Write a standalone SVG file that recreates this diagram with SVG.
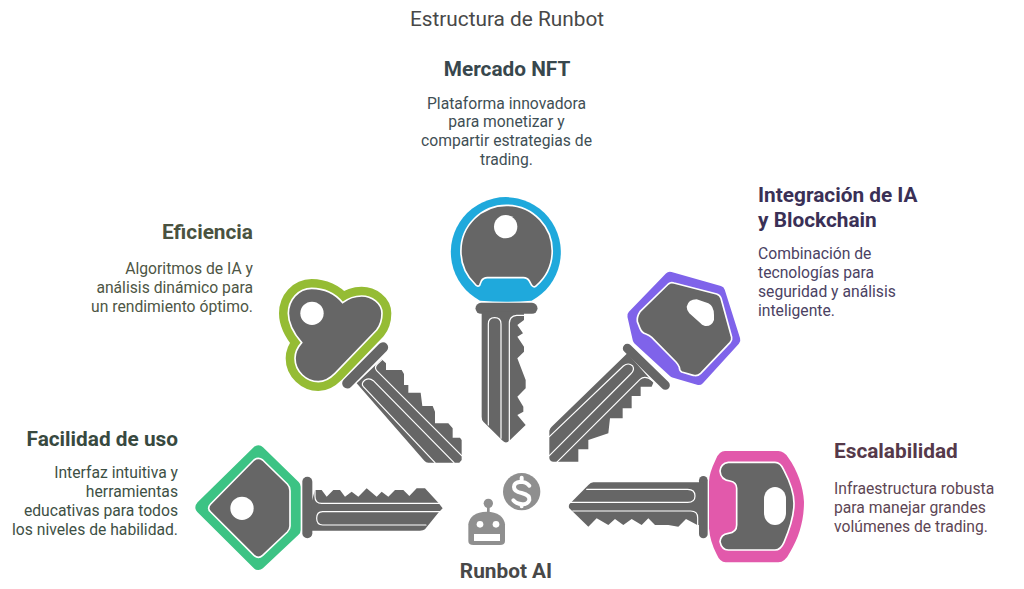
<svg xmlns="http://www.w3.org/2000/svg" width="1024" height="589" viewBox="0 0 1024 589">
<style>
text{font-family:Roboto,"Liberation Sans",sans-serif}
.cap{font-size:20.8px;fill:#484848}
.t{font-size:20.8px;font-weight:700}
.d{font-size:15.7px}
.g{fill:#666}
.gl{fill:none;stroke:#fff;stroke-width:3.6;stroke-linecap:round;stroke-linejoin:round}
.bow{stroke:#666;stroke-linecap:round;fill:none}
.hole{fill:#fff}
.ic{fill:#8f8f8f}
</style>
<rect width="1024" height="589" fill="#fff"/>
<text class="cap" x="507" y="26" text-anchor="middle">Estructura de Runbot</text>

<g id="node-mercado">
<g transform="translate(430 180) scale(.33333)">
<path fill="#1fa9dc" d="M150,362 A165,165 0 1 1 305,362 Q228,368 150,362Z"/>
<path class="g" stroke="#fff" stroke-width="5" d="M135,312 A137,137 0 1 1 320,316 Q312,325 305,316 L298,303 Q292,293 280,293 L172,293 Q160,293 154,303 L149,316 Q142,322 135,312Z"/>
<circle class="hole" cx="227" cy="140" r="35"/>
<path class="bow" stroke-width="33" d="M153,385H306"/>
<path class="g" d="M155,395H282V420L262,435L279,460L262,470L282,500V515L262,535L287,600V625L262,650L280,680V695L262,705L287,735L238,782Q228,793 218,782L160,725Q155,720 155,710Z"/>
<path class="gl" d="M238,785V430Q238,408 260,406H284M175,735V432Q175,413 194,413Q213,413 213,432V775"/>
</g>
<text class="t" x="507" y="76" text-anchor="middle" fill="#38474d">Mercado NFT</text>
<g class="d" text-anchor="middle" fill="#3f4f55">
<text x="506.500" y="109">Plataforma innovadora</text>
<text x="506.500" y="127">para monetizar y</text>
<text x="506.500" y="146">compartir estrategias de</text>
<text x="506.500" y="165">trading.</text>
</g>
</g>

<g id="node-eficiencia">
<g transform="translate(260 270) scale(.33333)">
<path fill="#95bc34" stroke="#95bc34" stroke-width="56" stroke-linejoin="round" d="M248,98C225,70 190,55 155,55C115,55 85,90 85,130C85,165 105,195 125,218C110,235 105,250 105,265C105,305 140,335 175,335C195,335 210,325 225,310L350,180C362,165 366,150 366,130C366,100 335,78 305,78C285,78 265,85 248,98Z"/>
<path class="g" stroke="#fff" stroke-width="5" d="M248,98C225,70 190,55 155,55C115,55 85,90 85,130C85,165 105,195 125,218C110,235 105,250 105,265C105,305 140,335 175,335C195,335 210,325 225,310L350,180C362,165 366,150 366,130C366,100 335,78 305,78C285,78 265,85 248,98Z"/>
<circle class="hole" cx="156" cy="130" r="35"/>
<path d="M238,345L385,205L398,240L262,370Z" fill="#fff"/>
<path class="bow" stroke-width="31" d="M369,232L262,340"/>
<path class="g" d="M290,340L365,268L378,280V300H425L432,312V345H445V368H482L487,408H518L525,425V460H565L578,475V503H600L605,510V570L598,578H505Q498,578 493,572Z"/>
<path class="gl" d="M605,557L350,302Q342,292 352,282L367,268M525,578L310,350Q302,340 315,330Q328,322 340,332L582,578"/>
</g>
<text class="t" x="253" y="239" text-anchor="end" fill="#4a5240">Eficiencia</text>
<g class="d" text-anchor="end" fill="#4e5645">
<text x="253" y="274">Algoritmos de IA y</text>
<text x="253" y="293">análisis dinámico para</text>
<text x="253" y="312">un rendimiento óptimo.</text>
</g>
</g>

<g id="node-integracion">
<g transform="translate(540 260) scale(.33333)">
<path fill="#7f63ea" stroke="#7f63ea" stroke-width="34" stroke-linejoin="round" d="M390,52L538,94L584,240L476,358L402,336L295,238L279,167Z"/>
<path class="g" stroke="#fff" stroke-width="5" stroke-linejoin="round" d="M385,72Q392,66 402,69L530,102Q540,105 543,115L575,232Q577,240 570,248L482,340Q472,350 460,346L425,336Q418,332 418,322Q415,314 408,306L335,232Q328,226 318,222Q305,218 300,205L292,185Q290,170 300,155Z"/>
<path class="hole" d="M440,140Q445,118 470,118L505,130Q522,138 522,165V180Q515,200 495,198Q485,195 480,188L448,160Q440,150 440,140Z"/>
<path class="bow" stroke-width="27" d="M262,265L376,376"/>
<path class="g" d="M262,280L340,368L335,380H302V408H275V445H248V475H210L205,520L145,540V568H115V605H40Q30,605 28,595V512Q30,505 35,500Z"/>
<path class="gl" d="M28,530L250,318Q265,306 278,318Q285,330 272,342L28,587M50,607L300,358Q315,345 338,362"/>
</g>
<g class="t" fill="#3a3056">
<text x="758" y="202">Integración de IA</text>
<text x="758" y="227">y Blockchain</text>
</g>
<g class="d" fill="#4b4263">
<text x="758" y="259">Combinación de</text>
<text x="758" y="278">tecnologías para</text>
<text x="758" y="297">seguridad y análisis</text>
<text x="758" y="316">inteligente.</text>
</g>
</g>

<g id="node-facilidad">
<g transform="translate(190 440) scale(.33333)">
<path fill="#3cc384" stroke="#3cc384" stroke-width="40" stroke-linejoin="round" d="M205,36L312,140V270L205,370L36,202Z"/>
<path class="g" stroke="#fff" stroke-width="5" stroke-linejoin="round" d="M192,60Q205,50 218,60L292,132Q300,140 300,152V258Q300,268 292,276L218,346Q205,358 192,346L62,216Q50,205 62,192Z"/>
<circle class="hole" cx="156" cy="205" r="35"/>
<path class="bow" stroke-width="30" d="M352,125V280"/>
<path class="g" d="M365,185L375,150H395L410,170L430,150H450L465,170L485,155L505,170L530,145L560,170L575,155L595,170L615,150H640L658,168L680,145H705L745,188L758,205L745,218L705,268Q700,272 690,272H360Z"/>
<path class="gl" d="M755,190H395Q375,190 375,170V148M755,215H398Q380,215 380,235Q380,255 398,255H708"/>
</g>
<text class="t" x="178" y="446" text-anchor="end" fill="#38493f">Facilidad de uso</text>
<g class="d" text-anchor="end" fill="#3e5045">
<text x="178" y="478">Interfaz intuitiva y</text>
<text x="178" y="497">herramientas</text>
<text x="178" y="516">educativas para todos</text>
<text x="178" y="535">los niveles de habilidad.</text>
</g>
</g>

<g id="node-escalabilidad">
<g transform="translate(560 445) scale(.33333)">
<path fill="#e259ab" d="M495,18Q478,18 468,42Q447,85 447,110V250Q450,290 470,328Q480,352 497,352H655Q675,352 690,322C718,275 732,225 732,170C730,125 712,75 685,38Q672,18 655,18Z"/>
<path class="g" stroke="#fff" stroke-width="5" stroke-linejoin="round" d="M505,52H645Q662,52 672,76C690,110 702,140 702,175C702,215 690,250 672,292Q662,315 645,315H505Q485,315 480,290Q482,268 505,265Q530,262 530,240V130Q530,112 510,108Q482,105 480,78Q482,55 505,52Z"/>
<rect class="hole" x="612" y="126" width="66" height="114" rx="33" ry="36"/>
<path class="bow" stroke-width="26" d="M430,106V267"/>
<path class="g" d="M430,112H100Q92,112 85,120L28,178Q25,185 28,190L85,245L110,220L145,240L165,222L190,240L215,222L245,240L265,220L285,240H325L355,245L378,222L412,240L430,240Z"/>
<path class="gl" d="M80,133H383Q405,133 405,153Q405,172 383,172H30M38,198H392Q413,198 413,218V243"/>
</g>
<text class="t" x="834" y="458" fill="#55394a">Escalabilidad</text>
<g class="d" fill="#5d4654">
<text x="834" y="494">Infraestructura robusta</text>
<text x="834" y="513">para manejar grandes</text>
<text x="834" y="532">volúmenes de trading.</text>
</g>
</g>

<g id="node-runbot">
<g transform="translate(450 465) scale(.33333)">
<circle class="ic" cx="215" cy="80" r="56"/>
<path fill="none" stroke="#fff" stroke-width="12" stroke-linecap="round" stroke-linejoin="round" d="M238,62Q228,50 212,50Q192,52 192,66Q192,80 215,84Q240,90 238,105Q234,118 216,118Q198,116 190,106M215,38V50M215,118V124"/>
<circle class="ic" cx="115" cy="115" r="14"/>
<rect class="ic" x="111" y="120" width="8" height="30"/>
<path class="ic" d="M55,178Q60,142 110,140Q160,142 165,178V228Q165,240 150,240H70Q55,240 55,228Z"/>
<circle class="hole" cx="90" cy="178" r="10"/>
<circle class="hole" cx="138" cy="178" r="10"/>
<rect class="hole" x="72" y="207" width="78" height="21"/>
</g>
<text class="t" x="506" y="578" text-anchor="middle" fill="#484848">Runbot AI</text>
</g>
<g id="connectors"/>
</svg>
